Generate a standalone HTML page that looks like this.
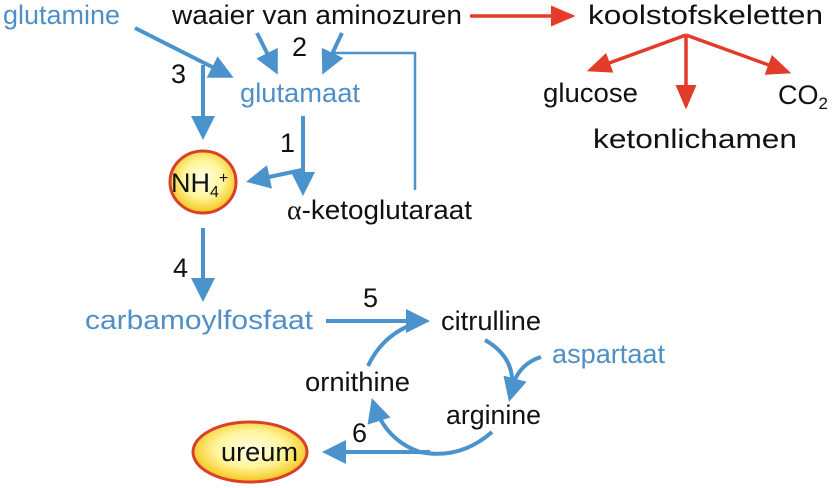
<!DOCTYPE html>
<html><head><meta charset="utf-8"><style>
html,body{margin:0;padding:0;background:#fff;}
svg{display:block;}
text{font-family:"Liberation Sans",Arial,sans-serif;font-size:27px;fill:#111;}
.b{fill:#4f8fc6;}
</style></head><body>
<svg width="834" height="488" viewBox="0 0 834 488" xmlns="http://www.w3.org/2000/svg">
<defs>
<marker id="ab" markerWidth="6" markerHeight="6" refX="5" refY="3" orient="auto" markerUnits="strokeWidth"><path d="M0,0 L6,3 L0,6 z" fill="#4a93cc"/></marker>
<marker id="ar" markerWidth="7" markerHeight="6" refX="6" refY="3" orient="auto" markerUnits="strokeWidth"><path d="M0,0 L7,3 L0,6 z" fill="#e23b2a"/></marker>
<radialGradient id="g" cx="50%" cy="45%" r="55%"><stop offset="0" stop-color="#fffde8"/><stop offset="0.55" stop-color="#fff59a"/><stop offset="1" stop-color="#f5c419"/></radialGradient>
</defs>
<g stroke="#4a93cc" stroke-width="4" fill="none">
<line x1="135" y1="28" x2="230" y2="76" marker-end="url(#ab)"/>
<line x1="203" y1="65" x2="203" y2="136" marker-end="url(#ab)"/>
<line x1="257" y1="33" x2="276" y2="71" marker-end="url(#ab)"/>
<line x1="342" y1="33" x2="324" y2="71" marker-end="url(#ab)"/>
<polyline points="334,53 415,53 415,190" stroke-width="2.5"/>
<line x1="303" y1="116" x2="303" y2="192" marker-end="url(#ab)"/>
<line x1="302" y1="170" x2="250" y2="181" marker-end="url(#ab)"/>
<line x1="203" y1="228" x2="203" y2="298" marker-end="url(#ab)"/>
<line x1="326" y1="321" x2="426" y2="321" marker-end="url(#ab)"/>
<path d="M368,366 Q385,330 424,321"/>
<path d="M485,340 Q520,360 510,398" marker-end="url(#ab)"/>
<path d="M541,357 Q515,365 510,396"/>
<path d="M492,432 Q460,460 420,452 Q385,440 373,402" marker-end="url(#ab)"/>
<line x1="430" y1="452" x2="326" y2="452" marker-end="url(#ab)"/>
</g>
<g stroke="#e23b2a" stroke-width="3.5" fill="none">
<line x1="470" y1="16" x2="572" y2="16" marker-end="url(#ar)"/>
<line x1="686" y1="35" x2="590" y2="70" marker-end="url(#ar)"/>
<line x1="686" y1="35" x2="686" y2="106" marker-end="url(#ar)"/>
<line x1="686" y1="35" x2="788" y2="72" marker-end="url(#ar)"/>
</g>
<ellipse cx="203" cy="182" rx="33" ry="31" fill="url(#g)" stroke="#d8402a" stroke-width="3"/>
<ellipse cx="250" cy="452" rx="57" ry="30" fill="url(#g)" stroke="#d8402a" stroke-width="3"/>
<g lengthAdjust="spacingAndGlyphs">
<text class="b" x="3" y="24" textLength="117" lengthAdjust="spacingAndGlyphs">glutamine</text>
<text x="172" y="24" textLength="290" lengthAdjust="spacingAndGlyphs">waaier van aminozuren</text>
<text x="588" y="24" textLength="235" lengthAdjust="spacingAndGlyphs">koolstofskeletten</text>
<text x="543" y="102" textLength="95" lengthAdjust="spacingAndGlyphs">glucose</text>
<text x="778" y="104">CO<tspan font-size="17" dy="5">2</tspan></text>
<text x="593" y="148" textLength="204" lengthAdjust="spacingAndGlyphs">ketonlichamen</text>
<text x="171" y="83">3</text>
<text x="292" y="56">2</text>
<text x="280" y="152">1</text>
<text x="173" y="277">4</text>
<text x="363" y="307">5</text>
<text x="352" y="442">6</text>
<text class="b" x="240" y="102" textLength="120" lengthAdjust="spacingAndGlyphs">glutamaat</text>
<text x="171" y="192" font-size="24">NH<tspan font-size="16" dy="5">4</tspan><tspan font-size="16" dy="-14">+</tspan></text>
<text x="287" y="219" textLength="185" lengthAdjust="spacingAndGlyphs"><tspan font-family="Liberation Serif">α</tspan>-ketoglutaraat</text>
<text class="b" x="85" y="329" textLength="228" lengthAdjust="spacingAndGlyphs">carbamoylfosfaat</text>
<text x="441" y="330" textLength="100" lengthAdjust="spacingAndGlyphs">citrulline</text>
<text class="b" x="552" y="363" textLength="113" lengthAdjust="spacingAndGlyphs">aspartaat</text>
<text x="305" y="391" textLength="105" lengthAdjust="spacingAndGlyphs">ornithine</text>
<text x="446" y="424" textLength="95" lengthAdjust="spacingAndGlyphs">arginine</text>
<text x="221" y="461" textLength="77" lengthAdjust="spacingAndGlyphs">ureum</text>
</g>
</svg>
</body></html>
